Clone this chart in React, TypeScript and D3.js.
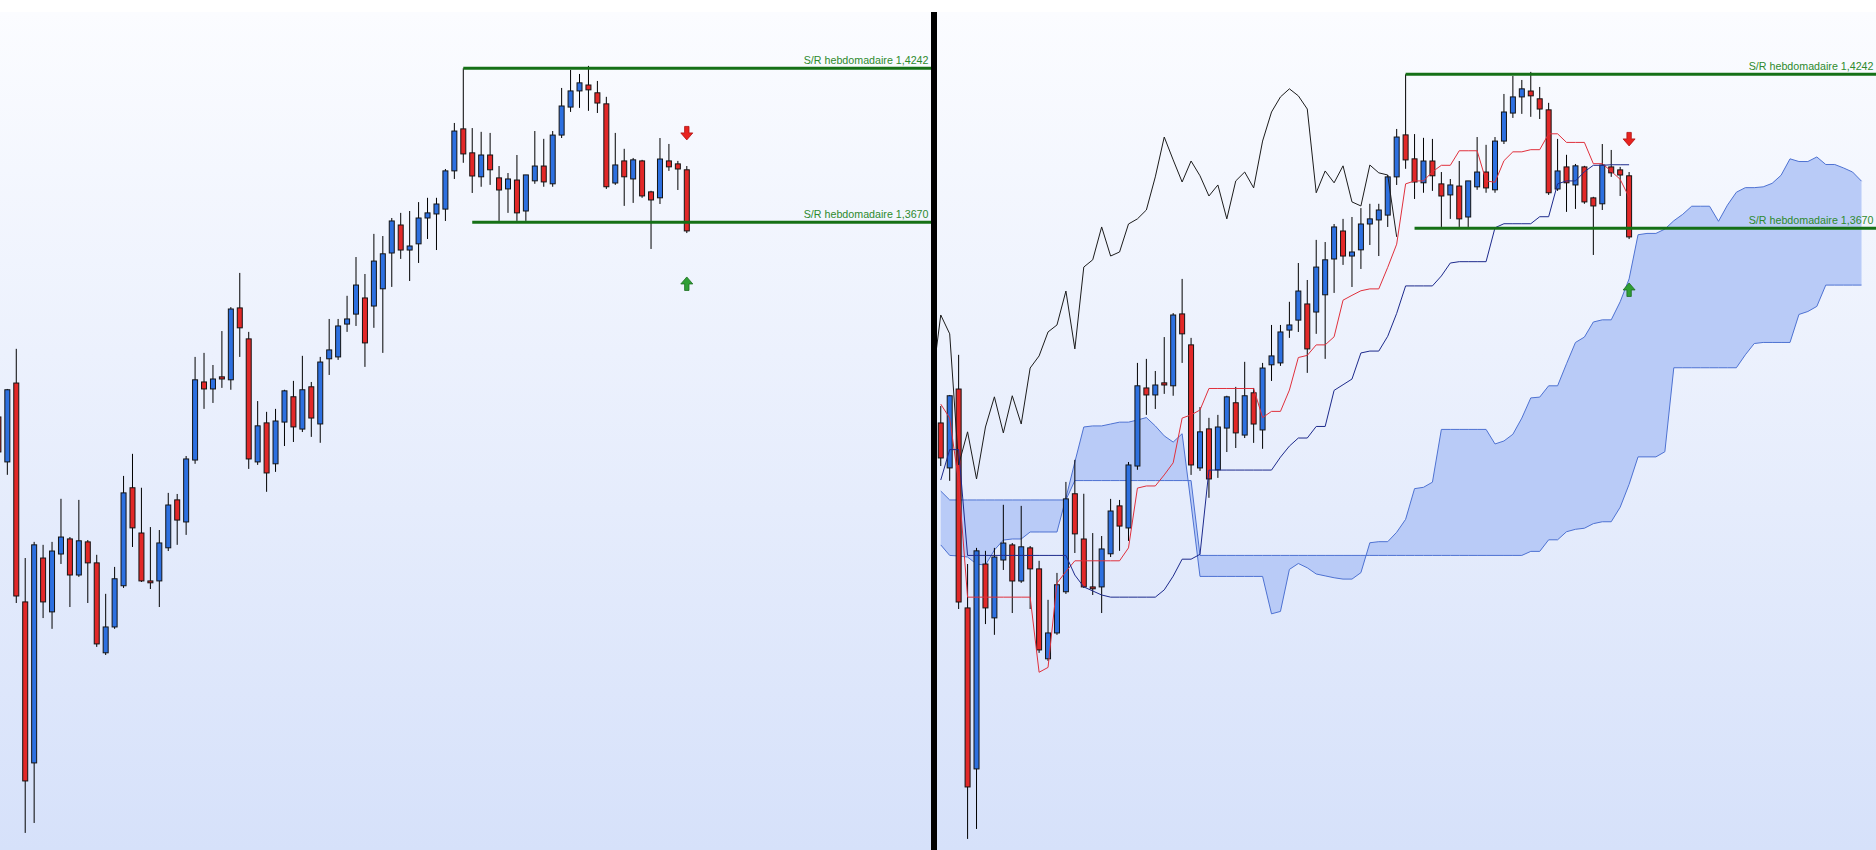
import React, { useEffect, useRef } from 'react';
import * as d3 from 'd3';

// Weekly bars, first entry is the bar just before the big drop
const opens = [
  1.2947, 1.2780, 1.3073, 1.2260, 1.1662, 1.2423, 1.2223, 1.2438, 1.2494, 1.2360,
  1.2483, 1.2405, 1.2071, 1.2167, 1.2320, 1.2684, 1.2516, 1.2338, 1.2338, 1.2461,
  1.2639, 1.2557, 1.2787, 1.3077, 1.3051, 1.3096, 1.3085, 1.3352, 1.3237, 1.2780,
  1.2925, 1.2773, 1.2928, 1.3022, 1.2902, 1.3059, 1.2921, 1.3163, 1.3170, 1.3292,
  1.3329, 1.3389, 1.3359, 1.3423, 1.3556, 1.3660, 1.3567, 1.3590, 1.3686, 1.3701,
  1.3719, 1.3861, 1.4017, 1.3928, 1.3839, 1.3920, 1.3835, 1.3794, 1.3827, 1.3712,
  1.3824, 1.3879, 1.3813, 1.3994, 1.4098, 1.4158, 1.4180, 1.4151, 1.4110, 1.3816,
  1.3898, 1.3831, 1.3898, 1.3783, 1.3761, 1.3898, 1.3887, 1.3865,
];
const highs = [
  1.3010, 1.3051, 1.3200, 1.2423, 1.2483, 1.2472, 1.2483, 1.2643, 1.2501, 1.2639,
  1.2490, 1.2435, 1.2290, 1.2390, 1.2728, 1.2810, 1.2684, 1.2538, 1.2527, 1.2665,
  1.2661, 1.2802, 1.3170, 1.3185, 1.3140, 1.3266, 1.3355, 1.3482, 1.3263, 1.3006,
  1.2966, 1.2977, 1.3048, 1.3081, 1.3174, 1.3077, 1.3170, 1.3311, 1.3311, 1.3397,
  1.3541, 1.3478, 1.3627, 1.3619, 1.3686, 1.3705, 1.3712, 1.3745, 1.3761, 1.3761,
  1.3868, 1.4039, 1.4242, 1.4020, 1.4006, 1.4002, 1.3879, 1.3853, 1.3920, 1.3846,
  1.4009, 1.3980, 1.4009, 1.4169, 1.4236, 1.4221, 1.4251, 1.4195, 1.4136, 1.4002,
  1.3943, 1.3909, 1.3902, 1.3787, 1.3983, 1.3961, 1.3898, 1.3879,
];
const lows = [
  1.2787, 1.2732, 1.2256, 1.1402, 1.1439, 1.2200, 1.2160, 1.2401, 1.2241, 1.2353,
  1.2256, 1.2093, 1.2063, 1.2160, 1.2312, 1.2464, 1.2334, 1.2308, 1.2241, 1.2449,
  1.2472, 1.2509, 1.2773, 1.2977, 1.2999, 1.3055, 1.3048, 1.3170, 1.2754, 1.2769,
  1.2669, 1.2743, 1.2839, 1.2854, 1.2891, 1.2873, 1.2851, 1.3103, 1.3159, 1.3263,
  1.3285, 1.3133, 1.3278, 1.3185, 1.3430, 1.3534, 1.3452, 1.3519, 1.3608, 1.3567,
  1.3675, 1.3831, 1.3891, 1.3779, 1.3802, 1.3809, 1.3675, 1.3705, 1.3675, 1.3675,
  1.3813, 1.3802, 1.3802, 1.3983, 1.4080, 1.4095, 1.4084, 1.4076, 1.3794, 1.3809,
  1.3731, 1.3742, 1.3761, 1.3571, 1.3738, 1.3861, 1.3790, 1.3630,
];
const closes = [
  1.2817, 1.3048, 1.2282, 1.1595, 1.2472, 1.2260, 1.2449, 1.2501, 1.2360, 1.2487,
  1.2405, 1.2104, 1.2167, 1.2346, 1.2665, 1.2535, 1.2338, 1.2331, 1.2479, 1.2620,
  1.2564, 1.2791, 1.3085, 1.3051, 1.3088, 1.3088, 1.3348, 1.3278, 1.2791, 1.2914,
  1.2739, 1.2932, 1.3044, 1.2910, 1.3048, 1.2943, 1.3151, 1.3196, 1.3285, 1.3311,
  1.3437, 1.3222, 1.3526, 1.3553, 1.3675, 1.3567, 1.3582, 1.3686, 1.3705, 1.3738,
  1.3861, 1.4009, 1.3924, 1.3842, 1.3920, 1.3865, 1.3790, 1.3831, 1.3705, 1.3846,
  1.3879, 1.3820, 1.3994, 1.4102, 1.4158, 1.4188, 1.4162, 1.4113, 1.3802, 1.3883,
  1.3839, 1.3902, 1.3768, 1.3753, 1.3905, 1.3876, 1.3868, 1.3638,
];

// Ichimoku, same bar index as above
const tenkan = [
  1.3017, 1.2965, 1.2728, 1.2300, 1.2300, 1.2300, 1.2300, 1.2300, 1.2300, 1.2300,
  1.2300, 1.2021, 1.2039, 1.2352, 1.2395, 1.2435, 1.2435, 1.2435, 1.2435, 1.2435,
  1.2435, 1.2483, 1.2705, 1.2713, 1.2713, 1.2754, 1.2799, 1.2965, 1.2977, 1.2995,
  1.3075, 1.3075, 1.3075, 1.3075, 1.3075, 1.3075, 1.2967, 1.2990, 1.2990, 1.3069,
  1.3190, 1.3198, 1.3237, 1.3237, 1.3267, 1.3403, 1.3421, 1.3438, 1.3445, 1.3445,
  1.3525, 1.3611, 1.3835, 1.3846, 1.3846, 1.3880, 1.3904, 1.3904, 1.3958, 1.3958,
  1.3958, 1.3846, 1.3841, 1.3921, 1.3954, 1.3954, 1.3962, 1.3962, 1.4021, 1.4021,
  1.3989, 1.3989, 1.3989, 1.3910, 1.3910, 1.3882, 1.3852, 1.3785,
];
const kijun = [
  1.2735, 1.2848, 1.2848, 1.2455, 1.2455, 1.2455, 1.2455, 1.2455, 1.2455, 1.2455,
  1.2455, 1.2455, 1.2455, 1.2455, 1.2455, 1.2382, 1.2338, 1.2323, 1.2308, 1.2300,
  1.2300, 1.2300, 1.2300, 1.2300, 1.2300, 1.2327, 1.2378, 1.2441, 1.2441, 1.2459,
  1.2772, 1.2772, 1.2772, 1.2772, 1.2772, 1.2772, 1.2772, 1.2772, 1.2820, 1.2861,
  1.2891, 1.2891, 1.2934, 1.2934, 1.3068, 1.3089, 1.3110, 1.3207, 1.3214, 1.3214,
  1.3269, 1.3354, 1.3456, 1.3456, 1.3456, 1.3456, 1.3493, 1.3541, 1.3546, 1.3546,
  1.3546, 1.3546, 1.3672, 1.3687, 1.3687, 1.3687, 1.3687, 1.3713, 1.3713, 1.3835,
  1.3846, 1.3846, 1.3880, 1.3904, 1.3904, 1.3906, 1.3906, 1.3906,
];
// cloud runs 26 bars past the last candle
const spanA = [
  1.2494, 1.2455, 1.2453, 1.2449, 1.2423, 1.2419, 1.2475, 1.2512, 1.2516, 1.2516,
  1.2542, 1.2542, 1.2542, 1.2542, 1.2668, 1.2802, 1.2932, 1.2936, 1.2936, 1.2943,
  1.2950, 1.2950, 1.2958, 1.2967, 1.2936, 1.2899, 1.2876, 1.2907, 1.2646, 1.2377,
  1.2377, 1.2377, 1.2377, 1.2377, 1.2377, 1.2377, 1.2377, 1.2238, 1.2247, 1.2403,
  1.2425, 1.2409, 1.2386, 1.2379, 1.2372, 1.2367, 1.2367, 1.2391, 1.2502, 1.2506,
  1.2506, 1.2541, 1.2589, 1.2703, 1.2708, 1.2727, 1.2923, 1.2923, 1.2923, 1.2923,
  1.2923, 1.2923, 1.2869, 1.2880, 1.2905, 1.2965, 1.3040, 1.3043, 1.3085, 1.3085,
  1.3167, 1.3246, 1.3266, 1.3322, 1.3330, 1.3330, 1.3397, 1.3482, 1.3646, 1.3651,
  1.3651, 1.3667, 1.3698, 1.3722, 1.3752, 1.3752, 1.3752, 1.3696, 1.3756, 1.3804,
  1.3821, 1.3821, 1.3824, 1.3837, 1.3867, 1.3928, 1.3918, 1.3918, 1.3935, 1.3907,
  1.3907, 1.3894, 1.3879, 1.3845,
];
const spanB = [
  1.2694, 1.2661, 1.2661, 1.2661, 1.2661, 1.2661, 1.2661, 1.2661, 1.2661, 1.2661,
  1.2661, 1.2661, 1.2661, 1.2661, 1.2661, 1.2733, 1.2733, 1.2733, 1.2733, 1.2733,
  1.2733, 1.2733, 1.2733, 1.2733, 1.2733, 1.2733, 1.2733, 1.2733, 1.2733, 1.2455,
  1.2455, 1.2455, 1.2455, 1.2455, 1.2455, 1.2455, 1.2455, 1.2455, 1.2455, 1.2455,
  1.2455, 1.2455, 1.2455, 1.2455, 1.2455, 1.2455, 1.2455, 1.2455, 1.2455, 1.2455,
  1.2455, 1.2455, 1.2455, 1.2455, 1.2455, 1.2455, 1.2455, 1.2455, 1.2455, 1.2455,
  1.2455, 1.2455, 1.2455, 1.2455, 1.2455, 1.2455, 1.2470, 1.2470, 1.2513, 1.2513,
  1.2543, 1.2552, 1.2556, 1.2573, 1.2580, 1.2580, 1.2634, 1.2719, 1.2821, 1.2821,
  1.2821, 1.2840, 1.3152, 1.3152, 1.3152, 1.3152, 1.3152, 1.3152, 1.3152, 1.3152,
  1.3200, 1.3242, 1.3246, 1.3246, 1.3246, 1.3246, 1.3350, 1.3361, 1.3380, 1.3459,
  1.3459, 1.3459, 1.3459, 1.3459,
];
const CHIKOU_SHIFT = 26;

const SR_LEVELS = [1.4242, 1.3670];
const SR_START = [52, 53]; // bar where each support/resistance line begins
const SIGNALS = [
  { bar: 77, price: 1.3976, dir: 'down' },
  { bar: 77, price: 1.3467, dir: 'up' },
];

const W = 1876;
const H = 850;
const TOP = 12;
const DIVIDER_X = 931;
const DIVIDER_W = 6;

const App: React.FC = () => {
  const svgRef = useRef<SVGSVGElement>(null);

  useEffect(() => {
    if (!svgRef.current) return;
    const svg = d3.select(svgRef.current);
    svg.selectAll('*').remove();

    const defs = svg.append('defs');
    const grad = defs.append('linearGradient')
      .attr('id', 'panel-bg')
      .attr('x1', 0).attr('x2', 0).attr('y1', 0).attr('y2', 1);
    grad.append('stop').attr('offset', '0%').attr('stop-color', '#fbfcff');
    grad.append('stop').attr('offset', '100%').attr('stop-color', '#d6e1fa');

    svg.append('rect').attr('width', W).attr('height', H).attr('fill', '#ffffff');

    const panels = [
      { id: 'left', x0: 0, x1: DIVIDER_X, xRange: [-1.61, 686.8], yRange: [68.3, 222.3], ichimoku: false },
      { id: 'right', x0: DIVIDER_X + DIVIDER_W, x1: W, xRange: [940.76, 1629.1], yRange: [74.3, 228.3], ichimoku: true },
    ];

    panels.forEach(p => {
      defs.append('clipPath').attr('id', `clip-${p.id}`)
        .append('rect')
        .attr('x', p.x0).attr('y', TOP)
        .attr('width', p.x1 - p.x0).attr('height', H - TOP);

      svg.append('rect')
        .attr('x', p.x0).attr('y', TOP)
        .attr('width', p.x1 - p.x0).attr('height', H - TOP)
        .attr('fill', 'url(#panel-bg)');

      const g = svg.append('g').attr('clip-path', `url(#clip-${p.id})`);

      const x = d3.scaleLinear().domain([0, closes.length - 1]).range(p.xRange);
      const y = d3.scaleLinear().domain(SR_LEVELS).range(p.yRange);

      const line = d3.line<number>().x((_, i) => x(i)).y(d => y(d));

      if (p.ichimoku) {
        const cloud = d3.area<number>()
          .x((_, i) => x(i))
          .y0(d => y(d))
          .y1((_, i) => y(spanB[i]));
        g.append('path').datum(spanA).attr('d', cloud).attr('fill', '#b9cbf7');
        [spanA, spanB].forEach(s => {
          g.append('path').datum(s).attr('d', line)
            .attr('fill', 'none').attr('stroke', '#4e72d2').attr('stroke-width', 1);
        });
      }

      // candles
      const bars = d3.range(closes.length);
      g.selectAll('.wick').data(bars).enter().append('line')
        .attr('x1', i => x(i)).attr('x2', i => x(i))
        .attr('y1', i => y(highs[i])).attr('y2', i => y(lows[i]))
        .attr('stroke', '#000').attr('stroke-width', 1);
      g.selectAll('.body').data(bars).enter().append('rect')
        .attr('x', i => x(i) - 2.5)
        .attr('y', i => y(Math.max(opens[i], closes[i])))
        .attr('width', 5)
        .attr('height', i => Math.max(1, Math.abs(y(opens[i]) - y(closes[i]))))
        .attr('fill', i => closes[i] > opens[i] ? '#2d70e0' : '#e22828')
        .attr('stroke', '#141414').attr('stroke-width', 1);

      if (p.ichimoku) {
        const chikou = d3.line<number>().x((_, i) => x(i - CHIKOU_SHIFT)).y(d => y(d));
        g.append('path').datum(closes).attr('d', chikou)
          .attr('fill', 'none').attr('stroke', '#1c1c1c').attr('stroke-width', 1);
        g.append('path').datum(tenkan).attr('d', line)
          .attr('fill', 'none').attr('stroke', '#e0303c').attr('stroke-width', 1);
        g.append('path').datum(kijun).attr('d', line)
          .attr('fill', 'none').attr('stroke', '#1d2a8c').attr('stroke-width', 1);
      }

      // weekly support / resistance
      SR_LEVELS.forEach((lvl, n) => {
        g.append('line')
          .attr('x1', x(SR_START[n])).attr('x2', p.x1)
          .attr('y1', y(lvl)).attr('y2', y(lvl))
          .attr('stroke', '#157016').attr('stroke-width', 3);
        g.append('text')
          .attr('x', p.x1 - 2.5).attr('y', y(lvl) - 4.5)
          .attr('text-anchor', 'end')
          .style('font-family', '"Liberation Sans", Arial, sans-serif')
          .style('font-size', '10.7px')
          .style('fill', '#2d8a2d')
          .text(`S/R hebdomadaire ${lvl.toFixed(4).replace('.', ',')}`);
      });

      // signal arrows
      SIGNALS.forEach(s => {
        const cx = x(s.bar);
        const ty = y(s.price);
        const k = s.dir === 'down' ? -1 : 1;
        const pts: [number, number][] = [
          [cx, ty],
          [cx + 6, ty + k * 7],
          [cx + 2.2, ty + k * 7],
          [cx + 2.2, ty + k * 13.5],
          [cx - 2.2, ty + k * 13.5],
          [cx - 2.2, ty + k * 7],
          [cx - 6, ty + k * 7],
        ];
        g.append('path')
          .attr('d', d3.line()(pts) + 'Z')
          .attr('fill', s.dir === 'down' ? '#e8231f' : '#2f9e34')
          .attr('stroke', s.dir === 'down' ? '#b01010' : '#1c6e20')
          .attr('stroke-width', 0.8);
      });
    });

    svg.append('rect')
      .attr('x', DIVIDER_X).attr('y', TOP)
      .attr('width', DIVIDER_W).attr('height', H - TOP)
      .attr('fill', '#000');
  }, []);

  return (
    <svg
      ref={svgRef}
      width={W}
      height={H}
      style={{ position: 'absolute', left: 0, top: 0, display: 'block' }}
    />
  );
};

export default App;
